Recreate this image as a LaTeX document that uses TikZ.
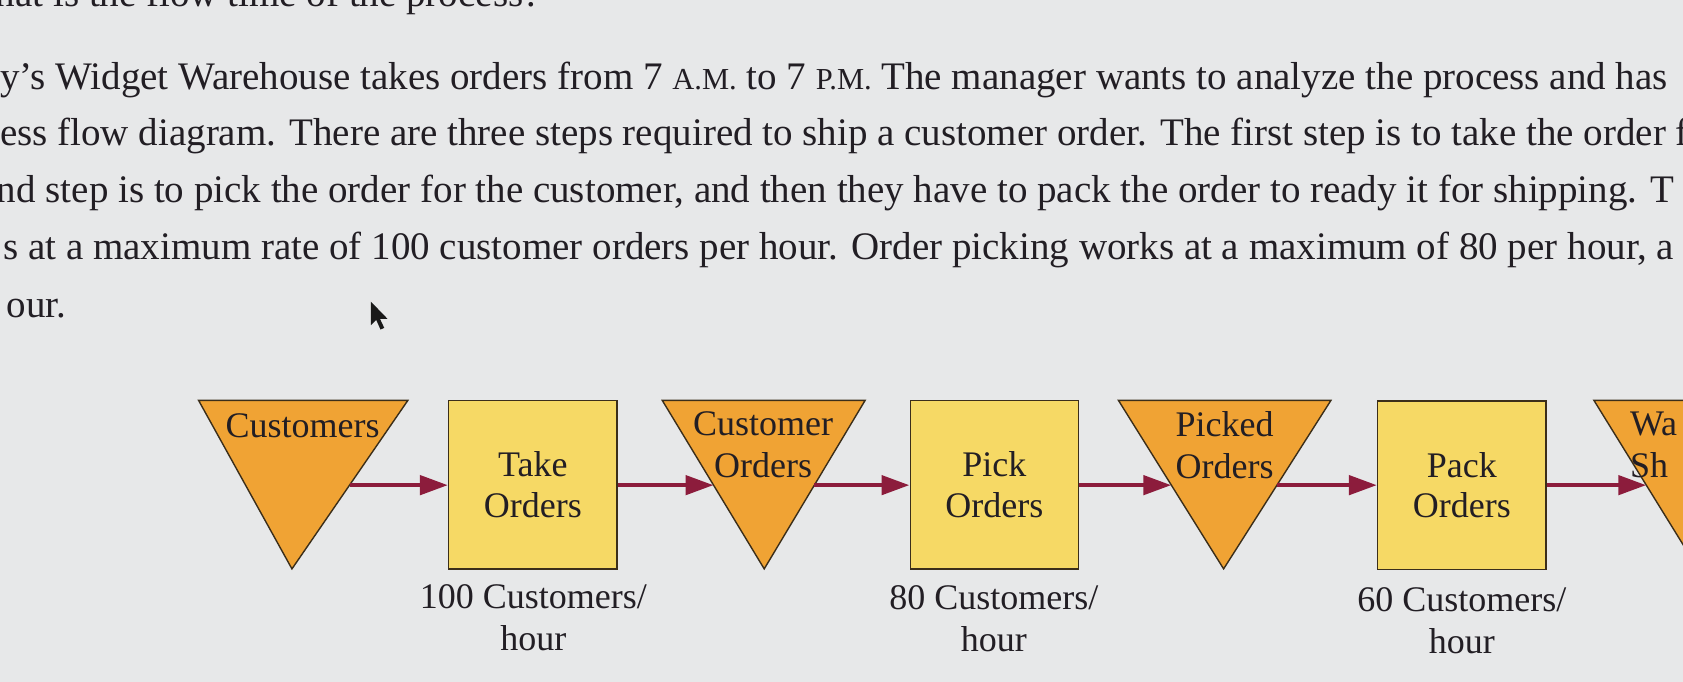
\documentclass[tikz,border=0pt]{standalone}
\usepackage{fontspec}
\setmainfont{Liberation Serif}
\usetikzlibrary{arrows.meta}
\definecolor{bg}{HTML}{E7E8E9}
\definecolor{ink}{HTML}{221E24}
\definecolor{trifill}{HTML}{F0A334}
\definecolor{boxfill}{HTML}{F6D965}
\definecolor{edge}{HTML}{3B2E1A}
\definecolor{flow}{HTML}{8C1C3C}
\tikzset{
  trishape/.style={fill=trifill, draw=edge, line width=1.4pt, line join=miter},
  stepbox/.style={rectangle, fill=boxfill, draw=edge, line width=1.4pt,
    minimum width=168.5pt, minimum height=168.5pt, inner sep=0pt},
  lbl/.style={text=ink, font=\fontsize{36}{40.5}\selectfont, align=center, inner sep=0pt},
  tlbl/.style={text=ink, font=\fontsize{36}{42}\selectfont, align=center, inner sep=0pt},
  para/.style={text=ink, font=\fontsize{39}{42}\selectfont, anchor=base west, inner sep=0pt},
  conn/.style={draw=flow, line width=4.5pt, -{Triangle[length=28pt,width=19pt]}},
}
\newcommand{\smc}[1]{{\fontsize{30.5}{31}\selectfont #1}}
\begin{document}
\begin{tikzpicture}[x=1.0733pt,y=-1.0733pt]
\useasboundingbox (0,0) rectangle (1568,635);
\clip (0,0) rectangle (1568,635);
\fill[bg] (0,0) rectangle (1568,635);

% text of the page
\node[para] (q)  at (-4,6) {hat is the flow time of the process?};
\node[para] (p1) at (0,83) {y's Widget Warehouse takes orders from 7 \smc{A.M.} to 7 \smc{P.M.} The manager wants to analyze the process and has};
\node[para] (p2) at (0,136) {ess flow diagram. There are three steps required to ship a customer order. The first step is to take the order f};
\node[para] (p3) at (-3,189) {nd step is to pick the order for the customer, and then they have to pack the order to ready it for shipping. T};
\node[para] (p4) at (3,242) {s at a maximum rate of 100 customer orders per hour. Order picking works at a maximum of 80 per hour, a};
\node[para] (p5) at (6,296) {our.};

% mouse pointer
\fill[black!90] (345.5,281) -- (345.5,303) -- (350.5,298) -- (354.5,307) -- (358,305.5) -- (354,297) -- (361,297) -- cycle;

% inventories (triangles)
\path[trishape] (185,373) -- (380,373) -- (272,530) -- cycle;
\path[trishape] (617,373) -- (806,373) -- (712,530) -- cycle;
\path[trishape] (1042,373) -- (1240,373) -- (1140,530) -- cycle;
\path[trishape] (1485,373) -- (1680,373) -- (1582,530) -- cycle;
\coordinate (c1out) at (325.7,452);
\coordinate (c2in)  at (664.8,452);
\coordinate (c2out) at (758.7,452);
\coordinate (c3in)  at (1091.3,452);
\coordinate (c3out) at (1189.7,452);
\coordinate (c4in)  at (1533.8,452);

\node[tlbl, anchor=north] (t1) at (282,385) {Customers};
\node[tlbl, anchor=north] (t2) at (711,383) {Customer\\Orders};
\node[tlbl, anchor=north] (t3) at (1141,383) {Picked\\Orders};
\node[tlbl, anchor=north west] (t4) at (1518,384) {\makebox[0pt][l]{Wa}\\\makebox[0pt][l]{Sh}};

% process steps
\node[stepbox] (b1) at (496.5,451.5) {};
\node[stepbox] (b2) at (926.5,451.5) {};
\node[stepbox] (b3) at (1362,452) {};
\node[lbl] (b1t) at (b1) {Take\\Orders};
\node[lbl] (b2t) at (b2) {Pick\\Orders};
\node[lbl] (b3t) at (b3) {Pack\\Orders};

% capacities
\node[tlbl, anchor=north] (r1) at (497,544) {100 Customers/\\hour};
\node[tlbl, anchor=north] (r2) at (926,545) {80 Customers/\\hour};
\node[tlbl, anchor=north] (r3) at (1362,547) {60 Customers/\\hour};

% flows
\draw[conn] (c1out) -- (b1.west |- c1out);
\draw[conn] (b1.east |- c2in) -- (c2in);
\draw[conn] (c2out) -- (b2.west |- c2out);
\draw[conn] (b2.east |- c3in) -- (c3in);
\draw[conn] (c3out) -- (b3.west |- c3out);
\draw[conn] (b3.east |- c4in) -- (c4in);
\end{tikzpicture}
\end{document}
